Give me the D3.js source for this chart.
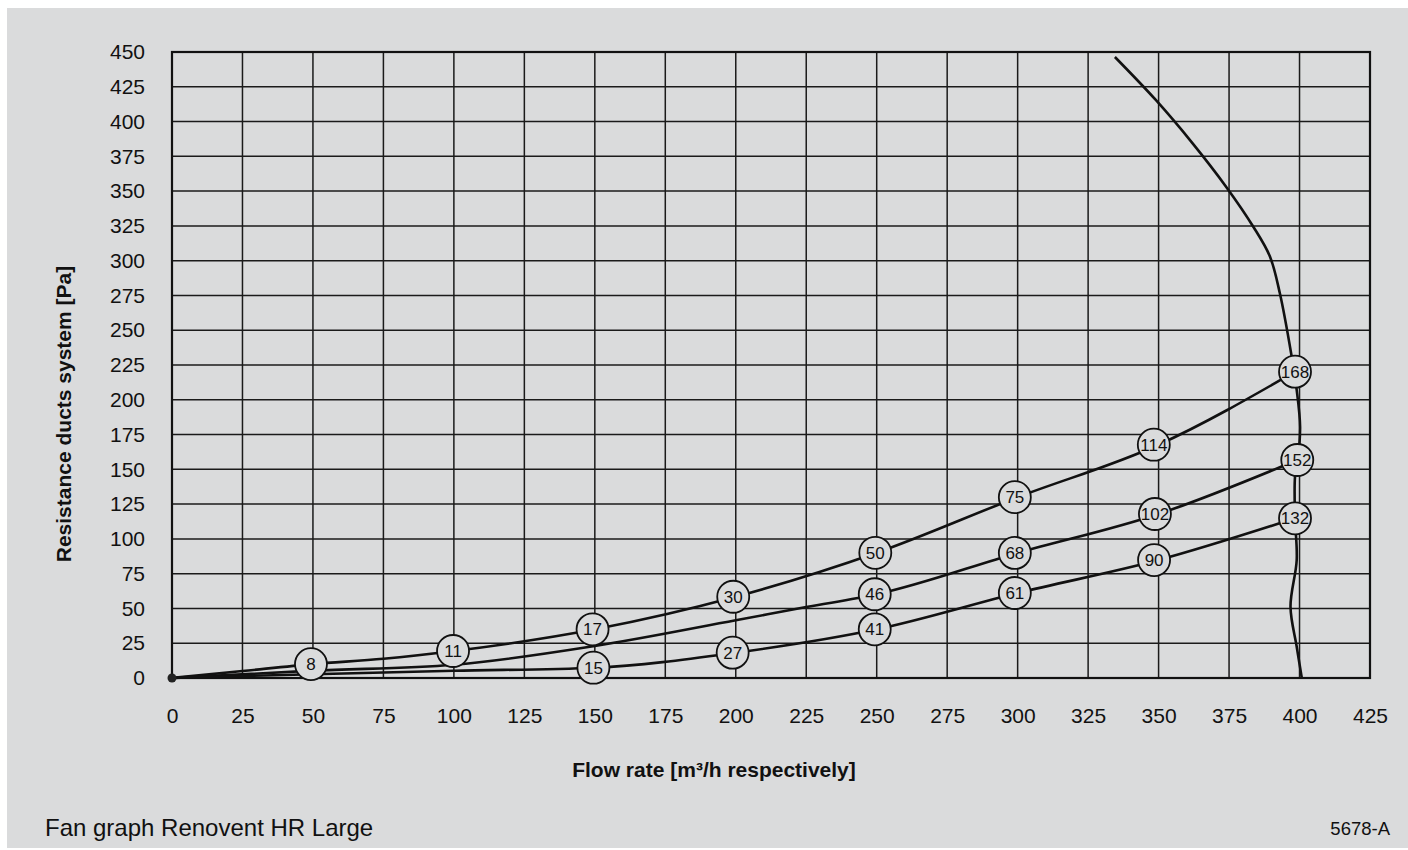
<!DOCTYPE html>
<html><head><meta charset="utf-8">
<script src="https://cdn.jsdelivr.net/npm/d3@7"></script>
<style>html,body{margin:0;padding:0;background:#fff;}svg{display:block;font-family:"Liberation Sans",Arial,sans-serif;}</style>
</head><body>
<svg id="c" width="1408" height="850"></svg>
<script>
// ---- data ----
const xTicks = [0,25,50,75,100,125,150,175,200,225,250,275,300,325,350,375,400,425];
const yTicks = [0,25,50,75,100,125,150,175,200,225,250,275,300,325,350,375,400,425,450];

// system curves (flow, pressure)
const curveHighX = [0,25,50,75,100,150,200,250,300,350,398.4];
const curveHighY = [0,5,10,13.8,19.4,35,58.4,90,130,167.7,220.2];
const curveMidX  = [0,50,100,150,200,225,250,300,350,399.2];
const curveMidY  = [0,5.3,9.5,23,41.5,51,60.2,89.9,117.9,156.7];
const curveLowX  = [0,50,100,150,200,250,300,350,398.4];
const curveLowY  = [0,2.7,5.2,7.4,18.2,35,61.1,84.8,114.8];

// fan curve
const fanX = [334.5,349,362,374,383.6,389.5,393,397,399,400.2,399.4,398.4,398.4,399,396.8,399,400.8];
const fanY = [446.4,415.5,384.5,353,324.4,303,276.7,233.6,207,180.6,157,144.7,115,84.8,51.3,22.5,0];

// labelled markers (watts)
const markHighX = [49.3,99.7,149.2,199.1,249.5,299,348.3,398.4];
const markHighY = [10,19.4,35,58.4,90,130,167.7,220.2];
const markHighL = ["8","11","17","30","50","75","114","168"];
const markMidX  = [249.3,299,348.7,399.2];
const markMidY  = [60.2,89.9,117.9,156.7];
const markMidL  = ["46","68","102","152"];
const markLowX  = [149.5,198.9,249.3,299,348.4,398.4];
const markLowY  = [7.4,18.2,35,61.1,84.8,114.8];
const markLowL  = ["15","27","41","61","90","132"];

const xTitle = "Flow rate [m³/h respectively]";
const yTitle = "Resistance ducts system [Pa]";
const footer = "Fan graph Renovent HR Large";
const code = "5678-A";

// ---- drawing ----
const svg = d3.select("#c");
const bg = "#dadbdc";
svg.append("rect").attr("x",7).attr("y",8).attr("width",1401).attr("height",840).attr("fill",bg);

const L=172, R=1370, T=52, B=678;
const x = d3.scaleLinear().domain([0,425]).range([L,R]);
const y = d3.scaleLinear().domain([0,450]).range([B,T]);

const g = svg.append("g");
// grid
g.selectAll("line.vx").data(xTicks).join("line")
  .attr("x1",d=>x(d)).attr("x2",d=>x(d)).attr("y1",T).attr("y2",B)
  .attr("stroke","#1a1a1a").attr("stroke-width",1.5);
g.selectAll("line.hy").data(yTicks).join("line")
  .attr("y1",d=>y(d)).attr("y2",d=>y(d)).attr("x1",L).attr("x2",R)
  .attr("stroke","#1a1a1a").attr("stroke-width",1.5);
g.append("rect").attr("x",L).attr("y",T).attr("width",R-L).attr("height",B-T)
  .attr("fill","none").attr("stroke","#111").attr("stroke-width",2.2);

// axes labels via d3 axes
const xAxis = svg.append("g").attr("transform",`translate(0,${B})`)
  .call(d3.axisBottom(x).tickValues(xTicks).tickSize(0).tickPadding(30));
const yAxis = svg.append("g").attr("transform",`translate(${L},0)`)
  .call(d3.axisLeft(y).tickValues(yTicks).tickSize(0).tickPadding(27));
[xAxis,yAxis].forEach(a=>{
  a.select(".domain").remove();
  a.selectAll("text").attr("font-size","21px").attr("fill","#111")
   .attr("font-family","'Liberation Sans',Arial,sans-serif");
});

// curves
const line = d3.line().x(d=>x(d[0])).y(d=>y(d[1])).curve(d3.curveMonotoneX);
const lineFree = d3.line().x(d=>x(d[0])).y(d=>y(d[1])).curve(d3.curveCatmullRom.alpha(0.5));
const zip=(a,b)=>a.map((v,i)=>[v,b[i]]);
[[curveHighX,curveHighY],[curveMidX,curveMidY],[curveLowX,curveLowY]].forEach(([a,b])=>{
  svg.append("path").attr("d",line(zip(a,b))).attr("fill","none")
    .attr("stroke","#111").attr("stroke-width",2.6);
});
svg.append("path").attr("d",lineFree(zip(fanX,fanY))).attr("fill","none")
  .attr("stroke","#111").attr("stroke-width",2.6);

// origin dot
svg.append("circle").attr("cx",x(0)).attr("cy",y(0)).attr("r",4.5).attr("fill","#222");

// markers
[[markHighX,markHighY,markHighL],[markMidX,markMidY,markMidL],[markLowX,markLowY,markLowL]].forEach(([a,b,l])=>{
  const m = svg.append("g").selectAll("g").data(a.map((v,i)=>({x:v,y:b[i],l:l[i]}))).join("g")
    .attr("transform",d=>`translate(${x(d.x)},${y(d.y)})`);
  m.append("circle").attr("r",16).attr("fill",bg).attr("stroke","#111").attr("stroke-width",1.8);
  m.append("text").text(d=>d.l).attr("text-anchor","middle").attr("dy","0.36em")
    .attr("font-size","17px").attr("fill","#111");
});

// titles
svg.append("text").attr("x",714).attr("y",777).attr("text-anchor","middle")
  .attr("font-weight","bold").attr("font-size","21px").attr("fill","#111").text(xTitle);
svg.append("text").attr("transform","translate(71,414) rotate(-90)").attr("text-anchor","middle")
  .attr("font-weight","bold").attr("font-size","21px").attr("fill","#111").text(yTitle);
svg.append("text").attr("x",45).attr("y",836).attr("font-size","24px").attr("fill","#111").text(footer);
svg.append("text").attr("x",1390).attr("y",835).attr("text-anchor","end").attr("font-size","18.5px").attr("fill","#111").text(code);
</script>
</body></html>
